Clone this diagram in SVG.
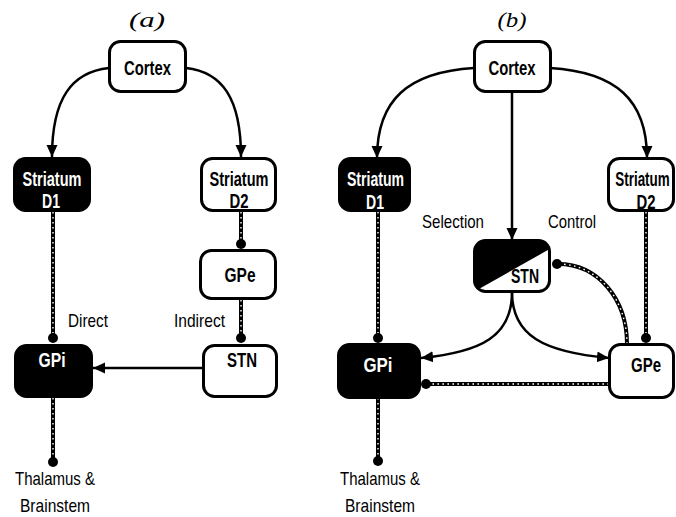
<svg xmlns="http://www.w3.org/2000/svg" width="676" height="517" viewBox="0 0 676 517">
<style>
.box{fill:#fff;stroke:#000;stroke-width:3}
.blk{fill:#000;stroke:#000;stroke-width:3}
.lbl{font-family:"Liberation Sans",Arial,sans-serif;font-weight:bold;font-size:21px;text-anchor:middle}
.wl{fill:#fff}
.bl{fill:#000}
.txt{font-family:"Liberation Sans",Arial,sans-serif;font-size:19px;fill:#000}
.ttl{font-family:"Liberation Serif","Times New Roman",serif;font-style:italic;font-size:21px;text-anchor:middle}
.solid{fill:none;stroke:#000;stroke-width:2.5}
.dash{fill:none;stroke:#000;stroke-width:4}
.dashw{fill:none;stroke:#fff;stroke-width:1.4;stroke-dasharray:1.6 3.4}
.dot{fill:#000}
</style>
<defs>
<marker id="arr" markerUnits="userSpaceOnUse" markerWidth="14" markerHeight="14" viewBox="0 0 14 14" refX="12" refY="7" orient="auto">
<path d="M0,1.5 L12,7 L0,12.5 Z" fill="#000"/>
</marker>
<clipPath id="stnclip"><rect x="474.5" y="240.5" width="75" height="51" rx="11"/></clipPath>
<path id="d1" d="M241,212 V244"/>
<path id="d2" d="M241,300 V338"/>
<path id="d3" d="M53,212 V338"/>
<path id="d4" d="M53,398 V462"/>
<path id="d5" d="M378,212 V338"/>
<path id="d6" d="M646,212 V338"/>
<path id="d7" d="M627,344 C627,299 598,264 558,264"/>
<path id="d8" d="M609,384 H426"/>
<path id="d9" d="M378,398 V461"/>
</defs>

<text class="ttl" x="147" y="27" textLength="36" lengthAdjust="spacingAndGlyphs">(a)</text>
<text class="ttl" x="512" y="27" textLength="29" lengthAdjust="spacingAndGlyphs">(b)</text>

<g id="connectors">
<!-- panel a -->
<path class="solid" d="M109,68 C72,72 52,98 52,157" marker-end="url(#arr)"/>
<path class="solid" d="M186,68 C222,72 241,98 241,157" marker-end="url(#arr)"/>
<use href="#d1" class="dash"/><use href="#d1" class="dashw"/>
<circle class="dot" cx="241" cy="244" r="5"/>
<use href="#d2" class="dash"/><use href="#d2" class="dashw"/>
<circle class="dot" cx="241" cy="338" r="5"/>
<use href="#d3" class="dash"/><use href="#d3" class="dashw"/>
<circle class="dot" cx="53" cy="338" r="5"/>
<path class="solid" d="M203,368 H93" marker-end="url(#arr)"/>
<use href="#d4" class="dash"/><use href="#d4" class="dashw"/>
<circle class="dot" cx="53" cy="462" r="5"/>
<text class="txt" x="68" y="327" textLength="40" lengthAdjust="spacingAndGlyphs">Direct</text>
<text class="txt" x="174" y="327" textLength="51" lengthAdjust="spacingAndGlyphs">Indirect</text>
<text class="txt" x="55" y="485" text-anchor="middle" textLength="80" lengthAdjust="spacingAndGlyphs">Thalamus &amp;</text>
<text class="txt" x="55" y="512" text-anchor="middle" textLength="70" lengthAdjust="spacingAndGlyphs">Brainstem</text>
<!-- panel b -->
<path class="solid" d="M474,68 C408,72 377,100 377,158" marker-end="url(#arr)"/>
<path class="solid" d="M550,68 C616,72 647,100 647,158" marker-end="url(#arr)"/>
<path class="solid" d="M512,92 V240" marker-end="url(#arr)"/>
<use href="#d5" class="dash"/><use href="#d5" class="dashw"/>
<circle class="dot" cx="378" cy="338" r="5"/>
<use href="#d6" class="dash"/><use href="#d6" class="dashw"/>
<circle class="dot" cx="646" cy="338" r="5"/>
<path class="solid" d="M512,292 C512,336 482,352 421,358" marker-end="url(#arr)"/>
<path class="solid" d="M512,292 C512,336 544,352 609,358" marker-end="url(#arr)"/>
<use href="#d7" class="dash"/><use href="#d7" class="dashw"/>
<circle class="dot" cx="557" cy="264" r="5"/>
<use href="#d8" class="dash"/><use href="#d8" class="dashw"/>
<circle class="dot" cx="426" cy="384" r="5"/>
<use href="#d9" class="dash"/><use href="#d9" class="dashw"/>
<circle class="dot" cx="378" cy="461" r="5"/>
<text class="txt" x="422" y="228" textLength="62" lengthAdjust="spacingAndGlyphs">Selection</text>
<text class="txt" x="548" y="228" textLength="48" lengthAdjust="spacingAndGlyphs">Control</text>
<text class="txt" x="380" y="485" text-anchor="middle" textLength="80" lengthAdjust="spacingAndGlyphs">Thalamus &amp;</text>
<text class="txt" x="380" y="512" text-anchor="middle" textLength="70" lengthAdjust="spacingAndGlyphs">Brainstem</text>
</g>

<g id="cortex-a">
<rect class="box" x="109.5" y="41.5" width="76" height="50" rx="11"/>
<text class="lbl bl" x="147.5" y="75" textLength="47" lengthAdjust="spacingAndGlyphs">Cortex</text>
</g>
<g id="striatum-d1-a">
<rect class="blk" x="14.5" y="158.5" width="75" height="52" rx="11"/>
<text class="lbl wl" x="52" y="186" textLength="59" lengthAdjust="spacingAndGlyphs">Striatum</text>
<text class="lbl wl" x="51" y="208" textLength="18" lengthAdjust="spacingAndGlyphs">D1</text>
</g>
<g id="striatum-d2-a">
<rect class="box" x="201.5" y="158.5" width="74" height="52" rx="11"/>
<text class="lbl bl" x="239" y="186" textLength="59" lengthAdjust="spacingAndGlyphs">Striatum</text>
<text class="lbl bl" x="239" y="208" textLength="19" lengthAdjust="spacingAndGlyphs">D2</text>
</g>
<g id="gpe-a">
<rect class="box" x="200.5" y="250.5" width="75" height="48" rx="11"/>
<text class="lbl bl" x="240" y="282" textLength="31" lengthAdjust="spacingAndGlyphs">GPe</text>
</g>
<g id="gpi-a">
<rect class="blk" x="15.5" y="345.5" width="76" height="51" rx="11"/>
<text class="lbl wl" x="52" y="367" textLength="27" lengthAdjust="spacingAndGlyphs">GPi</text>
</g>
<g id="stn-a">
<rect class="box" x="203.5" y="345.5" width="73" height="51" rx="11"/>
<text class="lbl bl" x="242" y="367" textLength="30" lengthAdjust="spacingAndGlyphs">STN</text>
</g>

<g id="cortex-b">
<rect class="box" x="474.5" y="41.5" width="76" height="50" rx="11"/>
<text class="lbl bl" x="512" y="75" textLength="47" lengthAdjust="spacingAndGlyphs">Cortex</text>
</g>
<g id="striatum-d1-b">
<rect class="blk" x="339.5" y="158.5" width="70" height="52" rx="11"/>
<text class="lbl wl" x="375.5" y="186" textLength="57" lengthAdjust="spacingAndGlyphs">Striatum</text>
<text class="lbl wl" x="375" y="209" textLength="18" lengthAdjust="spacingAndGlyphs">D1</text>
</g>
<g id="striatum-d2-b">
<rect class="box" x="608.5" y="158.5" width="65" height="52" rx="11"/>
<text class="lbl bl" transform="translate(642.5,186) scale(0.64,1)" x="0" y="0">Striatum</text>
<text class="lbl bl" x="646" y="209" textLength="19" lengthAdjust="spacingAndGlyphs">D2</text>
</g>
<g id="stn-b">
<g clip-path="url(#stnclip)">
<rect x="474.5" y="240.5" width="75" height="51" fill="#fff"/>
<polygon points="470,236 555,236 555,246 470,294" fill="#000"/>
</g>
<rect x="474.5" y="240.5" width="75" height="51" rx="11" fill="none" stroke="#000" stroke-width="3"/>
<text class="lbl bl" x="525" y="283" textLength="28" lengthAdjust="spacingAndGlyphs">STN</text>
</g>
<g id="gpi-b">
<rect class="blk" x="338.5" y="344.5" width="81" height="53" rx="11"/>
<text class="lbl wl" x="378" y="372" textLength="29" lengthAdjust="spacingAndGlyphs">GPi</text>
</g>
<g id="gpe-b">
<rect class="box" x="609.5" y="344.5" width="64" height="53" rx="11"/>
<text class="lbl bl" x="646" y="372" textLength="30" lengthAdjust="spacingAndGlyphs">GPe</text>
</g>
</svg>
